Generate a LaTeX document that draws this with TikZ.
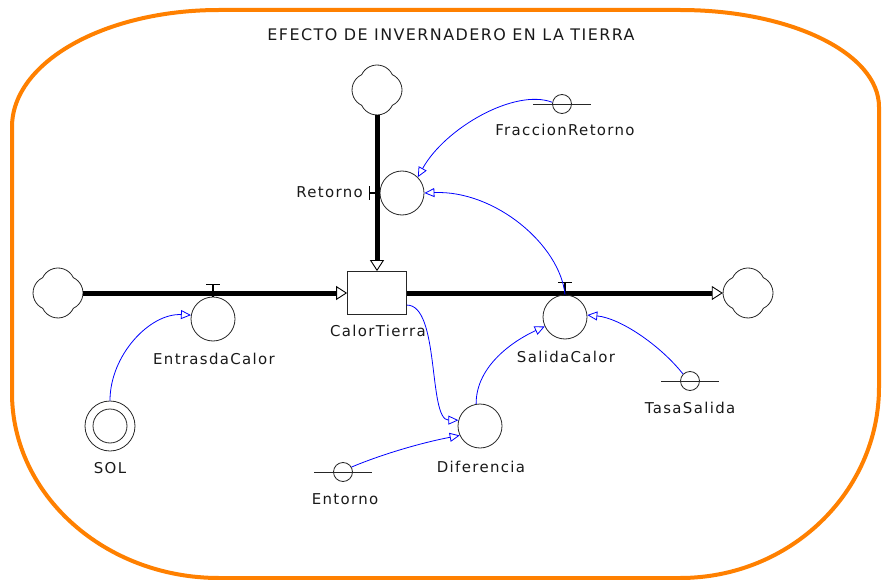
\documentclass[tikz,border=0pt]{standalone}
\usepackage{fontspec}
\setmainfont{DejaVu Sans}[LetterSpace=9]
\usetikzlibrary {arrows.meta}

\definecolor{naranja}{RGB}{255,128,0}

\tikzset{
  fino/.style = {draw=black!85, line width=0.8bp},
  auxiliar/.style = {fino, circle, minimum size=44bp, inner sep=0pt},
  constante/.style = {fino, circle, minimum size=19bp, inner sep=0pt},
  nivel/.style = {fino, rectangle, minimum width=59bp, minimum height=43bp, inner sep=0pt},
  etiqueta/.style = {text=black!90, font=\fontsize{15}{18}\selectfont, inner sep=0pt, anchor=base},
  tubo/.style = {line width=5bp, arrows = {-Triangle[open, length=11bp, width=14bp, line width=0.9bp]}},
  enlace/.style = {blue, line width=0.8bp, arrows = {-Triangle[open, length=10bp, width=9bp, line width=0.8bp]}},
  marca/.style = {line width=1.3bp},
  nube/.pic = {
    \node [circle, minimum size=50bp, inner sep=0pt] (-b) {};
    \draw [fino] (15.34,15.34) arc [start angle=25.6, end angle=154.4, radius=17]
      arc [start angle=115.6, end angle=244.4, radius=17]
      arc [start angle=205.6, end angle=334.4, radius=17]
      arc [start angle=295.6, end angle=424.4, radius=17] -- cycle;
  }
}

\begin{document}
\begin{tikzpicture}[x=1bp, y=1bp]
        \useasboundingbox (0,0) rectangle (882,-580);

        % marco
        \draw [naranja, line width=4bp] (219,-10) -- (680,-10)
          .. controls (790,-10) and (879,-53) .. (879,-107) -- (879,-387)
          .. controls (879,-492) and (790,-578) .. (680,-578) -- (219,-578)
          .. controls (105,-578) and (12,-495) .. (12,-393) -- (12,-127)
          .. controls (12,-62) and (105,-10) .. (219,-10) -- cycle;

        \node [etiqueta, anchor=center, font=\fontsize{16}{19}\selectfont] (titulo) at (451,-35) {EFECTO DE INVERNADERO EN LA TIERRA};

        % nubes y nivel
        \pic (nubeArriba) at (377,-90) {nube};
        \pic (nubeIzq) at (58,-293) {nube};
        \pic (nubeDer) at (748,-293) {nube};
        \node [nivel] (CalorTierra) at (377,-293) {};

        % flujos
        \draw [tubo] (nubeIzq-b.east) -- (CalorTierra.west);
        \draw [tubo] (nubeArriba-b.south) -- (CalorTierra.north);
        \draw [tubo] (CalorTierra.east) -- (nubeDer-b.west);

        % valvulas y auxiliares
        \node [auxiliar] (EntrasdaCalor) at (213,-319) {};
        \node [auxiliar] (SalidaCalor) at (565,-317) {};
        \node [auxiliar] (Retorno) at (402,-193) {};
        \node [auxiliar] (Diferencia) at (480,-426) {};
        \foreach \v in {EntrasdaCalor, SalidaCalor}{
          \draw [marca] (\v.north) -- ++(0,12) ++(-7,0) -- ++(14,0);
        }
        \draw [marca] (Retorno.west) -- ++(-10,0) ++(0,-7) -- ++(0,14);

        % constantes
        \node [constante] (FraccionRetorno) at (562,-104) {};
        \node [constante] (TasaSalida) at (690,-381) {};
        \node [constante] (Entorno) at (343,-472) {};
        \foreach \c in {FraccionRetorno, TasaSalida, Entorno}{
          \draw [fino] (\c) +(-29,0) -- +(29,0);
        }
        \node [fino, circle, minimum size=50bp, inner sep=0pt] (SOL) at (110,-426) {};
        \draw [fino] (SOL) circle [radius=17];

        % etiquetas
        \node [etiqueta] (lblCalorTierra) at (378,-336) {CalorTierra};
        \node [etiqueta] (lblEntrasdaCalor) at (214,-364) {EntrasdaCalor};
        \node [etiqueta] (lblSalidaCalor) at (566,-362) {SalidaCalor};
        \node [etiqueta, anchor=base east] (lblRetorno) at (363,-198) {Retorno};
        \node [etiqueta] (lblDiferencia) at (481,-472) {Diferencia};
        \node [etiqueta] (lblFraccionRetorno) at (565,-136) {FraccionRetorno};
        \node [etiqueta] (lblTasaSalida) at (690,-413) {TasaSalida};
        \node [etiqueta] (lblEntorno) at (345,-504) {Entorno};
        \node [etiqueta] (lblSOL) at (110,-473) {SOL};

        % enlaces
        \draw [enlace] (SOL.north) .. controls (110,-355) and (150,-313) .. (EntrasdaCalor.170);
        \draw [enlace] (FraccionRetorno.170) .. controls (515,-88) and (445,-128) .. (Retorno.45);
        \draw [enlace] (SalidaCalor.north) .. controls (560,-245) and (495,-190) .. (Retorno.east);
        \draw [enlace] (CalorTierra.-22) .. controls (440,-305) and (428,-420) .. (Diferencia.165);
        \draw [enlace] (Diferencia.100) .. controls (476,-365) and (515,-340) .. (SalidaCalor.205);
        \draw [enlace] (Entorno.30) .. controls (380,-455) and (420,-443) .. (Diferencia.205);
        \draw [enlace] (TasaSalida.135) .. controls (660,-345) and (620,-318) .. (SalidaCalor.5);
      \end{tikzpicture}
\end{document}
